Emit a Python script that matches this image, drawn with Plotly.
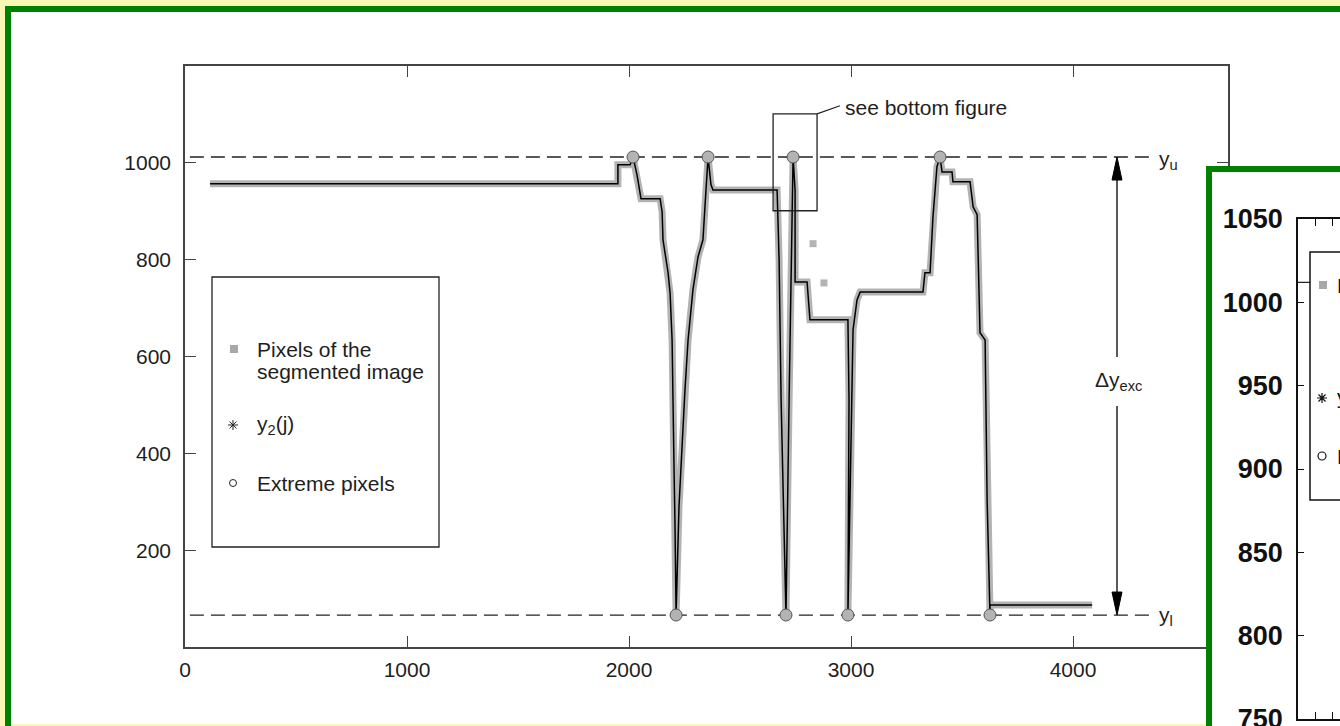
import plotly.graph_objects as go

W, H = 1340, 726

# ---------------- data ----------------
# pixels of the segmented image (column j, row y)
pixel_x = [113, 1950, 1950, 2005, 2018, 2036, 2054, 2140, 2149, 2153, 2176, 2185,
           2194, 2198, 2203, 2207, 2211, 2212, 2225, 2239, 2252, 2266, 2288, 2311,
           2333, 2342, 2351, 2356, 2369, 2378, 2667, 2676, 2685, 2707, 2721, 2734,
           2739, 2748, 2748, 2802, 2815, 2986, 2991, 2986, 3000, 3009, 3027, 3041,
           3324, 3333, 3356, 3369, 3387, 3401, 3410, 3455, 3459, 3536, 3550, 3568,
           3581, 3604, 3613, 3626, 3626, 4086]
pixel_y = [957, 957, 996, 996, 1012, 975, 926, 926, 899, 841, 773, 731,
           634, 463, 360, 256, 153, 66, 289, 428, 531, 634, 738, 806,
           841, 909, 979, 1012, 955, 944, 944, 800, 510, 66, 510, 820,
           1012, 944, 754, 754, 676, 676, 510, 66, 407, 655, 717, 733,
           733, 773, 773, 888, 992, 1012, 981, 981, 961, 961, 909, 893,
           649, 634, 304, 66, 87, 87]
# isolated segmented pixels
outlier_x = [2829, 2878]
outlier_y = [833, 752]
# y2(j) curve
y2_x = list(pixel_x)
y2_y = list(pixel_y)
# extreme pixels
ext_x = [2018, 2356, 2739, 3401, 2212, 2707, 2986, 3626]
ext_y = [1012, 1012, 1012, 1012, 66, 66, 66, 66]
# limits
y_upper = 1012
y_lower = 66

x_ticks = [0, 1000, 2000, 3000, 4000]
y_ticks = [200, 400, 600, 800, 1000]
inset_y_ticks = [750, 800, 850, 900, 950, 1000, 1050]

FONT = "Liberation Sans, Arial, sans-serif"
TXT = "#1e1e1e"
AX = "#444444"
GRAY = "#b3b3b3"
GREEN = "#008000"


def px(x):
    return x / W


def py(y):
    return 1 - y / H


def ppath(pts_groups):
    s = ""
    for grp in pts_groups:
        for i, (a, b) in enumerate(grp):
            s += ("M" if i == 0 else "L") + f"{px(a):.5f},{py(b):.5f} "
    return s.strip()


fig = go.Figure()
fig.add_trace(go.Scatter(x=pixel_x, y=pixel_y, mode="lines",
                         line=dict(color=GRAY, width=7), hoverinfo="skip"))
fig.add_trace(go.Scatter(x=outlier_x, y=outlier_y, mode="markers",
                         marker=dict(symbol="square", size=7, color=GRAY), hoverinfo="skip"))
fig.add_trace(go.Scatter(x=y2_x, y=y2_y, mode="lines",
                         line=dict(color="black", width=1.5), hoverinfo="skip"))
fig.add_trace(go.Scatter(x=ext_x, y=ext_y, mode="markers",
                         marker=dict(symbol="circle", size=12, color=GRAY,
                                     line=dict(color="#555555", width=1)), hoverinfo="skip"))
# frame panel (covers the right part of the main chart)
fig.add_trace(go.Scatter(x=[None], y=[None], xaxis="x2", yaxis="y2", hoverinfo="skip"))
# inset (bottom figure, mostly outside the window)
fig.add_trace(go.Scatter(x=[None], y=[None], xaxis="x3", yaxis="y3", hoverinfo="skip"))

shapes = []
# outer main frame
shapes.append(dict(type="rect", xref="paper", yref="paper", layer="below",
                   x0=px(11), x1=1, y0=py(724), y1=py(12),
                   fillcolor="white", line=dict(width=0)))
shapes.append(dict(type="rect", xref="paper", yref="paper", layer="below",
                   x0=px(5), x1=1, y0=py(12), y1=py(6),
                   fillcolor=GREEN, line=dict(width=0)))
shapes.append(dict(type="rect", xref="paper", yref="paper", layer="below",
                   x0=px(5), x1=px(11), y0=0, y1=py(6),
                   fillcolor=GREEN, line=dict(width=0)))
# inset frame border (drawn in frame subplot so it covers the main chart)
shapes.append(dict(type="rect", xref="x2", yref="y2", layer="below",
                   x0=0, x1=6 / 134, y0=0, y1=1, fillcolor=GREEN, line=dict(width=0)))
shapes.append(dict(type="rect", xref="x2", yref="y2", layer="below",
                   x0=0, x1=1, y0=1 - 6 / 560, y1=1, fillcolor=GREEN, line=dict(width=0)))

# dashed limit lines
for yv in (y_upper, y_lower):
    shapes.append(dict(type="line", xref="x", yref="y", layer="below",
                       x0=22, x1=4360, y0=yv, y1=yv,
                       line=dict(color="#222222", width=1.3, dash="14px,7px")))

# see-bottom-figure box and leader
shapes.append(dict(type="rect", xref="x", yref="y", layer="above",
                   x0=2649, x1=2847, y0=901, y1=1101,
                   line=dict(color="#222222", width=1.3)))
shapes.append(dict(type="line", xref="x", yref="y", layer="above",
                   x0=2847, x1=2950, y0=1101, y1=1118,
                   line=dict(color="#222222", width=1.2)))

# delta y arrow
xa = 4198
hw = 22.5
hl = 47.5
shapes.append(dict(type="line", xref="x", yref="y", layer="above",
                   x0=xa, x1=xa, y0=y_upper - hl, y1=599, line=dict(color="black", width=1.3)))
shapes.append(dict(type="line", xref="x", yref="y", layer="above",
                   x0=xa, x1=xa, y0=498, y1=y_lower + hl, line=dict(color="black", width=1.3)))
shapes.append(dict(type="path", xref="x", yref="y", layer="above",
                   path=f"M{xa},{y_upper} L{xa - hw},{y_upper - hl} L{xa + hw},{y_upper - hl} Z",
                   fillcolor="black", line=dict(color="black", width=1)))
shapes.append(dict(type="path", xref="x", yref="y", layer="above",
                   path=f"M{xa},{y_lower} L{xa - hw},{y_lower + hl} L{xa + hw},{y_lower + hl} Z",
                   fillcolor="black", line=dict(color="black", width=1)))

# main legend box and glyphs
shapes.append(dict(type="rect", xref="paper", yref="paper", layer="above",
                   x0=px(212), x1=px(439), y0=py(547), y1=py(277),
                   line=dict(color="#222222", width=1.3)))
shapes.append(dict(type="rect", xref="paper", yref="paper", layer="above",
                   x0=px(230), x1=px(238), y0=py(353), y1=py(345),
                   fillcolor="#a8a8a8", line=dict(width=0)))
shapes.append(dict(type="path", xref="paper", yref="paper", layer="above",
                   path=ppath([[(228, 425), (238, 425)], [(233, 420), (233, 430)],
                               [(229.5, 421.5), (236.5, 428.5)], [(229.5, 428.5), (236.5, 421.5)]]),
                   line=dict(color="#222222", width=1)))
shapes.append(dict(type="circle", xref="paper", yref="paper", layer="above",
                   x0=px(229.5), x1=px(236.5), y0=py(486.5), y1=py(479.5),
                   line=dict(color="#222222", width=1)))

# inset y_upper line
shapes.append(dict(type="line", xref="x3", yref="y3", layer="below",
                   x0=2650, x1=2700, y0=y_upper, y1=y_upper,
                   line=dict(color="#222222", width=1.3, dash="14px,7px")))
# inset legend box and glyphs
shapes.append(dict(type="rect", xref="paper", yref="paper", layer="above",
                   x0=px(1310), x1=1.05, y0=py(500), y1=py(252),
                   fillcolor="white", line=dict(color="#111111", width=1.5)))
shapes.append(dict(type="rect", xref="paper", yref="paper", layer="above",
                   x0=px(1319), x1=px(1327), y0=py(289), y1=py(281),
                   fillcolor="#a8a8a8", line=dict(width=0)))
shapes.append(dict(type="path", xref="paper", yref="paper", layer="above",
                   path=ppath([[(1317, 398), (1327, 398)], [(1322, 393), (1322, 403)],
                               [(1318.5, 394.5), (1325.5, 401.5)], [(1318.5, 401.5), (1325.5, 394.5)]]),
                   line=dict(color="#111111", width=1.2)))
shapes.append(dict(type="circle", xref="paper", yref="paper", layer="above",
                   x0=px(1318), x1=px(1326), y0=py(460), y1=py(452),
                   line=dict(color="#111111", width=1.2)))

ann = []


def txt(x, y, text, size=21, xanchor="left", color=TXT, weight="normal"):
    ann.append(dict(xref="paper", yref="paper", x=px(x), y=py(y), text=text,
                    showarrow=False, xanchor=xanchor, yanchor="middle",
                    font=dict(family=FONT, size=size, color=color, weight=weight)))


txt(843, 108, "see bottom figure")
txt(1157, 160, "y<sub>u</sub>")
txt(1157, 616, "y<sub>l</sub>")
txt(1118, 381, "Δy<sub>exc</sub>", xanchor="center")
txt(255, 349, "Pixels of the")
txt(255, 371, "segmented image")
txt(255, 425, "y<sub>2</sub>(j)")
txt(255, 483, "Extreme pixels")
# inset legend texts (mostly outside the window)
txt(1335, 285, "Pixels of the", color="#111111")
txt(1335, 398, "y<sub>2</sub>(j)", color="#111111")
txt(1335, 456, "Extreme pixels", color="#111111")

axis_common = dict(showgrid=False, zeroline=False, showline=True, linecolor=AX,
                   linewidth=1.5, mirror="allticks", ticks="inside", tickcolor=AX,
                   tickwidth=1.3, automargin=False,
                   tickfont=dict(family=FONT, size=21, color=TXT))

fig.update_layout(
    width=W, height=H,
    margin=dict(l=0, r=0, t=0, b=0, pad=0, autoexpand=False),
    paper_bgcolor="#f8f8b4",
    plot_bgcolor="white",
    showlegend=False,
    shapes=shapes,
    annotations=ann,
    xaxis=dict(domain=[px(185), px(1228)], range=[0, 4698], anchor="y",
               tickmode="array", tickvals=x_ticks, ticklen=11, ticklabelstandoff=3,
               **axis_common),
    yaxis=dict(domain=[py(647), py(66)], range=[0, 1200], anchor="x",
               tickmode="array", tickvals=y_ticks, ticklen=11, ticklabelstandoff=8,
               **axis_common),
    xaxis2=dict(domain=[px(1206), 1], range=[0, 1], anchor="y2", visible=False, fixedrange=True),
    yaxis2=dict(domain=[0, py(166)], range=[0, 1], anchor="x2", visible=False, fixedrange=True),
    xaxis3=dict(domain=[px(1298), 1], range=[2650, 2662.35], anchor="y3",
                tickmode="linear", tick0=2650, dtick=5, ticklen=7, showticklabels=False,
                showgrid=False, zeroline=False, showline=True, linecolor="#111111",
                linewidth=1.5, mirror="allticks", ticks="inside", tickcolor="#111111",
                automargin=False),
    yaxis3=dict(domain=[py(719), py(219)], range=[750, 1050], anchor="x3",
                tickmode="array", tickvals=inset_y_ticks, ticklen=6, ticklabelstandoff=8,
                showgrid=False, zeroline=False, showline=True, linecolor="#111111",
                linewidth=1.5, mirror=False, ticks="inside", tickcolor="#111111",
                automargin=False, ticklabeloverflow="allow",
                tickfont=dict(family=FONT, size=27, color="#111111", weight="bold")),
)

fig.write_html("out.html")
